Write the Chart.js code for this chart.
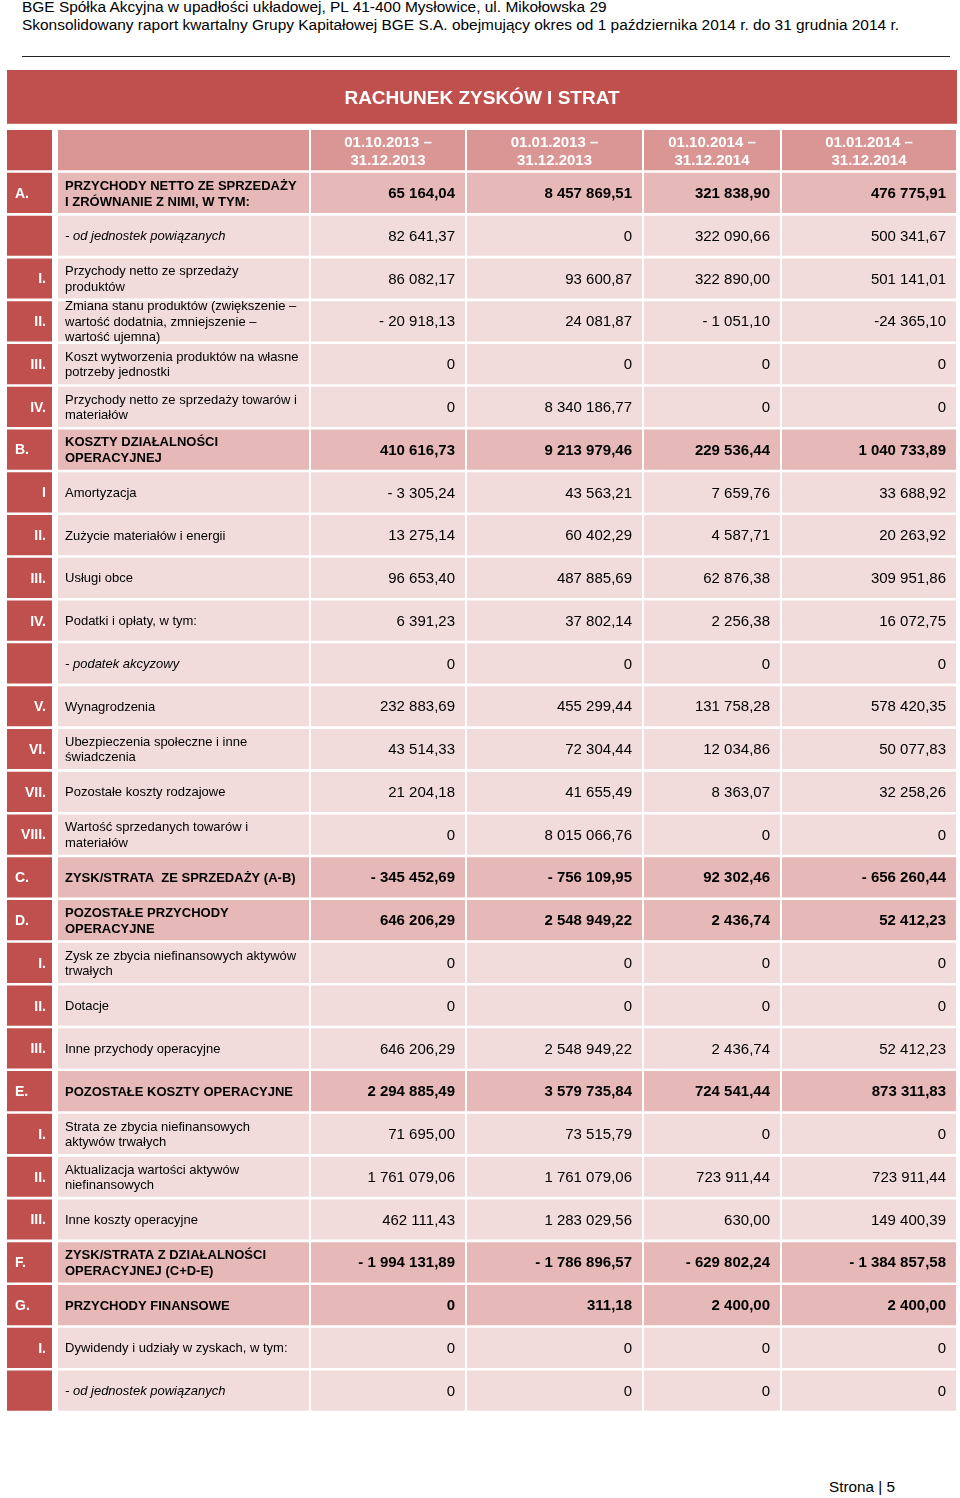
<!DOCTYPE html>
<html lang="pl">
<head>
<meta charset="utf-8">
<title>Rachunek zysków i strat</title>
<script src="https://cdn.jsdelivr.net/npm/chart.js@4.4.1/dist/chart.umd.min.js"></script>
<style>
  html, body { margin: 0; padding: 0; background: #fff; }
  body { width: 960px; height: 1498px; position: relative; overflow: hidden;
         font-family: "Liberation Sans", Arial, sans-serif; color: #000; }
  .hdr { position: absolute; left: 22px; font-size: 15.45px; line-height: 18px; white-space: nowrap; }
  .rule { position: absolute; left: 22px; top: 56px; width: 928px; height: 1px; background: #222; }
  .foot { position: absolute; left: 829px; top: 1478px; font-size: 15.3px; line-height: 18px; }
  #wrap { position: absolute; left: 7px; top: 70px; width: 950px; height: 1342px; }
</style>
</head>
<body>
<div class="hdr" style="top:-2px">BGE Spółka Akcyjna w upadłości układowej, PL 41-400 Mysłowice, ul. Mikołowska 29</div>
<div class="hdr" style="top:16px">Skonsolidowany raport kwartalny Grupy Kapitałowej BGE S.A. obejmujący okres od 1 października 2014 r. do 31 grudnia 2014 r.</div>
<div class="rule"></div>
<div id="wrap"><canvas id="c" width="950" height="1342"></canvas></div>
<div class="foot">Strona | 5</div>
<script>
// ---------- DATA ----------
const tableTitle = 'RACHUNEK ZYSKÓW I STRAT';
const periods = ['01.10.2013 –\n31.12.2013', '01.01.2013 –\n31.12.2013', '01.10.2014 –\n31.12.2014', '01.01.2014 –\n31.12.2014'];

const rowCodes = ['A.', '', 'I.', 'II.', 'III.', 'IV.', 'B.', 'I', 'II.', 'III.', 'IV.', '', 'V.', 'VI.', 'VII.', 'VIII.',
  'C.', 'D.', 'I.', 'II.', 'III.', 'E.', 'I.', 'II.', 'III.', 'F.', 'G.', 'I.', ''];

const rowLabels = [
  'PRZYCHODY NETTO ZE SPRZEDAŻY\nI ZRÓWNANIE Z NIMI, W TYM:',
  '- od jednostek powiązanych',
  'Przychody netto ze sprzedaży\nproduktów',
  'Zmiana stanu produktów (zwiększenie –\nwartość dodatnia, zmniejszenie –\nwartość ujemna)',
  'Koszt wytworzenia produktów na własne\npotrzeby jednostki',
  'Przychody netto ze sprzedaży towarów i\nmateriałów',
  'KOSZTY DZIAŁALNOŚCI\nOPERACYJNEJ',
  'Amortyzacja',
  'Zużycie materiałów i energii',
  'Usługi obce',
  'Podatki i opłaty, w tym:',
  '- podatek akcyzowy',
  'Wynagrodzenia',
  'Ubezpieczenia społeczne i inne\nświadczenia',
  'Pozostałe koszty rodzajowe',
  'Wartość sprzedanych towarów i\nmateriałów',
  'ZYSK/STRATA  ZE SPRZEDAŻY (A-B)',
  'POZOSTAŁE PRZYCHODY\nOPERACYJNE',
  'Zysk ze zbycia niefinansowych aktywów\ntrwałych',
  'Dotacje',
  'Inne przychody operacyjne',
  'POZOSTAŁE KOSZTY OPERACYJNE',
  'Strata ze zbycia niefinansowych\naktywów trwałych',
  'Aktualizacja wartości aktywów\nniefinansowych',
  'Inne koszty operacyjne',
  'ZYSK/STRATA Z DZIAŁALNOŚCI\nOPERACYJNEJ (C+D-E)',
  'PRZYCHODY FINANSOWE',
  'Dywidendy i udziały w zyskach, w tym:',
  '- od jednostek powiązanych'
];

// section = lettered total row, sub = "- ..." detail row, item = ordinary line
const rowKind = ['section', 'sub', 'item', 'item', 'item', 'item', 'section', 'item', 'item', 'item', 'item', 'sub', 'item', 'item', 'item', 'item',
  'section', 'section', 'item', 'item', 'item', 'section', 'item', 'item', 'item', 'section', 'section', 'item', 'sub'];

const valuesQ4_2013 = ['65 164,04', '82 641,37', '86 082,17', '- 20 918,13', '0', '0', '410 616,73', '- 3 305,24', '13 275,14', '96 653,40',
  '6 391,23', '0', '232 883,69', '43 514,33', '21 204,18', '0', '- 345 452,69', '646 206,29', '0', '0', '646 206,29', '2 294 885,49',
  '71 695,00', '1 761 079,06', '462 111,43', '- 1 994 131,89', '0', '0', '0'];
const valuesFY_2013 = ['8 457 869,51', '0', '93 600,87', '24 081,87', '0', '8 340 186,77', '9 213 979,46', '43 563,21', '60 402,29', '487 885,69',
  '37 802,14', '0', '455 299,44', '72 304,44', '41 655,49', '8 015 066,76', '- 756 109,95', '2 548 949,22', '0', '0', '2 548 949,22', '3 579 735,84',
  '73 515,79', '1 761 079,06', '1 283 029,56', '- 1 786 896,57', '311,18', '0', '0'];
const valuesQ4_2014 = ['321 838,90', '322 090,66', '322 890,00', '- 1 051,10', '0', '0', '229 536,44', '7 659,76', '4 587,71', '62 876,38',
  '2 256,38', '0', '131 758,28', '12 034,86', '8 363,07', '0', '92 302,46', '2 436,74', '0', '0', '2 436,74', '724 541,44',
  '0', '723 911,44', '630,00', '- 629 802,24', '2 400,00', '0', '0'];
const valuesFY_2014 = ['476 775,91', '500 341,67', '501 141,01', '-24 365,10', '0', '0', '1 040 733,89', '33 688,92', '20 263,92', '309 951,86',
  '16 072,75', '0', '578 420,35', '50 077,83', '32 258,26', '0', '- 656 260,44', '52 412,23', '0', '0', '52 412,23', '873 311,83',
  '0', '723 911,44', '149 400,39', '- 1 384 857,58', '2 400,00', '0', '0'];

// ---------- LAYOUT / STYLE ----------
const FONT = '"Liberation Sans", Arial, sans-serif';
const columnSpans = [[0, 45], [51, 302], [304, 458], [460, 635], [637, 773], [775, 949]]; // table x-units
const COLORS = { code: '#c0504d', header: '#d99694', section: '#e6b9b8', item: '#f2dcdb', sub: '#f2dcdb' };
const valueColumns = [valuesQ4_2013, valuesFY_2013, valuesQ4_2014, valuesFY_2014];
const rowCount = rowLabels.length + 1; // + header row
const categories = Array.from({ length: rowCount }, (_, i) => i === 0 ? 'header' : 'r' + i);

function cellColor(row, col) {
  if (col === 0) return COLORS.code;
  if (row === 0) return COLORS.header;
  return COLORS[rowKind[row - 1]];
}

const titleBg = {
  id: 'titleBg',
  beforeDraw(chart) {
    const t = chart.titleBlock, ctx = chart.ctx;
    ctx.save();
    ctx.fillStyle = COLORS.code;
    ctx.fillRect(t.left, t.top, t.width, t.height - 5);
    ctx.restore();
  }
};

function drawLines(ctx, text, x, yc, lh) {
  const lines = text.split('\n');
  const y0 = yc - (lines.length - 1) * lh / 2;
  lines.forEach((ln, i) => ctx.fillText(ln, x, y0 + i * lh));
}

const cellText = {
  id: 'cellText',
  afterDatasetsDraw(chart) {
    const ctx = chart.ctx, xs = chart.scales.x, ys = chart.scales.y;
    const L = c => xs.getPixelForValue(columnSpans[c][0]);
    const R = c => xs.getPixelForValue(columnSpans[c][1]);
    ctx.save();
    ctx.textBaseline = 'middle';
    // header row
    let yc = ys.getPixelForValue(0);
    ctx.fillStyle = '#fff';
    ctx.font = `bold 15px ${FONT}`;
    ctx.textAlign = 'center';
    periods.forEach((p, k) => drawLines(ctx, p, (L(k + 2) + R(k + 2)) / 2, yc + 2, 18));
    // body rows
    for (let r = 0; r < rowLabels.length; r++) {
      yc = ys.getPixelForValue(r + 1) + 1;
      const kind = rowKind[r];
      const code = rowCodes[r];
      if (code) {
        ctx.fillStyle = '#fff';
        ctx.font = `bold 14px ${FONT}`;
        if (kind === 'section') { ctx.textAlign = 'left'; ctx.fillText(code, L(0) + 8, yc); }
        else { ctx.textAlign = 'right'; ctx.fillText(code, R(0) - 6, yc); }
      }
      ctx.fillStyle = '#000';
      ctx.textAlign = 'left';
      ctx.font = kind === 'section' ? `bold 13px ${FONT}` : kind === 'sub' ? `italic 13px ${FONT}` : `13px ${FONT}`;
      drawLines(ctx, rowLabels[r], L(1) + 7, yc, kind === 'section' ? 16 : 15.5);
      ctx.textAlign = 'right';
      ctx.font = kind === 'section' ? `bold 15px ${FONT}` : `15px ${FONT}`;
      valueColumns.forEach((vals, k) => ctx.fillText(vals[r], R(k + 2) - 10, yc));
    }
    ctx.restore();
  }
};

new Chart(document.getElementById('c'), {
  type: 'bar',
  data: {
    labels: categories,
    datasets: columnSpans.map((span, c) => ({
      label: 'col' + c,
      data: categories.map(() => span),
      backgroundColor: ctx => cellColor(ctx.dataIndex, c),
      borderWidth: 0,
      grouped: false,
      barPercentage: 0.94,
      categoryPercentage: 1
    }))
  },
  options: {
    indexAxis: 'y',
    responsive: false,
    animation: false,
    events: [],
    layout: { padding: 0 },
    scales: {
      x: { type: 'linear', min: 0, max: 950, display: false },
      y: { type: 'category', display: false, offset: true }
    },
    plugins: {
      legend: { display: false },
      tooltip: { enabled: false },
      title: {
        display: true,
        text: tableTitle,
        color: '#fff',
        font: { family: FONT, size: 19, weight: 'bold', lineHeight: 1.2 },
        padding: { top: 17, bottom: 19 }
      }
    }
  },
  plugins: [titleBg, cellText]
});
</script>
</body>
</html>
